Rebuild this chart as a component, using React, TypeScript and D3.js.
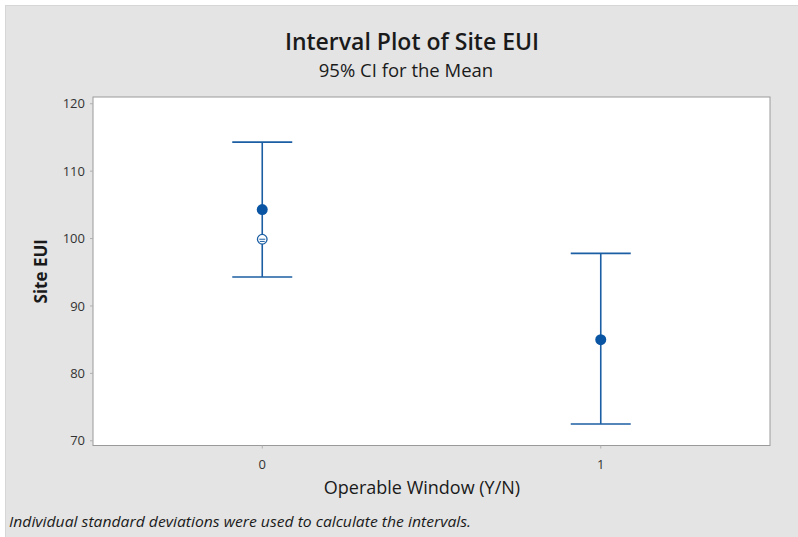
import React from "react";
import * as d3 from "d3";

const groups = ["0", "1"];
const groupX = [0, 1];
const means = [104.3, 85.0];
const lowerCI = [94.3, 72.5];
const upperCI = [114.3, 97.8];
const medians: (number | null)[] = [99.9, null];
const yTicks = [70, 80, 90, 100, 110, 120];

const W = 798;
const H = 537;
const plot = { left: 93, top: 97, right: 770, bottom: 445.5 };
const blue = "#1b5ea3";
const dotBlue = "#0a55a3";
const font = "'Open Sans', 'Noto Sans', sans-serif";

export default function App() {
  const x = d3.scaleLinear().domain([-0.5, 1.5]).range([plot.left, plot.right]);
  const y = d3.scaleLinear().domain([69.3, 121.0]).range([plot.bottom, plot.top]);
  const capHalf = 30;

  return (
    <svg width={W} height={H} style={{ position: "absolute", left: 0, top: 0 }}>
      <rect x={0} y={0} width={W} height={H} fill="#ffffff" />
      <rect x={5.5} y={5.5} width={W} height={H} fill="#e4e4e4" stroke="#d6d6d6" />
      <text x={412} y={50} textAnchor="middle" fontFamily={font} fontSize={23} fontWeight={600} fill="#1a1a1a">
        Interval Plot of Site EUI
      </text>
      <text x={406} y={77} textAnchor="middle" fontFamily={font} fontSize={18.5} fill="#1a1a1a">
        95% CI for the Mean
      </text>

      <rect
        x={plot.left}
        y={plot.top}
        width={plot.right - plot.left}
        height={plot.bottom - plot.top}
        fill="#ffffff"
        stroke="#9a9a9a"
        strokeWidth={1}
      />

      {yTicks.map((t) => (
        <g key={t}>
          <line x1={plot.left - 3} x2={plot.left} y1={y(t)} y2={y(t)} stroke="#b0b0b0" />
          <text x={plot.left - 8} y={y(t)} dy="0.35em" textAnchor="end" fontFamily={font} fontSize={13} fill="#333">
            {t}
          </text>
        </g>
      ))}
      {groups.map((g, i) => (
        <g key={g}>
          <line x1={x(groupX[i])} x2={x(groupX[i])} y1={plot.bottom} y2={plot.bottom + 3} stroke="#b0b0b0" />
          <text x={x(groupX[i])} y={plot.bottom + 23} textAnchor="middle" fontFamily={font} fontSize={13} fill="#333">
            {g}
          </text>
        </g>
      ))}

      <text
        transform={`translate(47, ${(plot.top + plot.bottom) / 2}) rotate(-90)`}
        textAnchor="middle"
        fontFamily={font}
        fontSize={17}
        fontWeight={700}
        fill="#1a1a1a"
      >
        Site EUI
      </text>
      <text x={422} y={494} textAnchor="middle" fontFamily={font} fontSize={18} fill="#1a1a1a">
        Operable Window (Y/N)
      </text>
      <text
        x={9}
        y={527}
        fontFamily={font}
        fontSize={14.5}
        fontStyle="italic"
        fill="#1a1a1a"
        textLength={462}
        lengthAdjust="spacingAndGlyphs"
      >
        Individual standard deviations were used to calculate the intervals.
      </text>

      {groups.map((g, i) => {
        const cx = x(groupX[i]);
        const med = medians[i];
        return (
          <g key={`iv-${g}`}>
            <line x1={cx} x2={cx} y1={y(upperCI[i])} y2={y(lowerCI[i])} stroke={blue} strokeWidth={1.6} />
            <line x1={cx - capHalf} x2={cx + capHalf} y1={y(upperCI[i])} y2={y(upperCI[i])} stroke={blue} strokeWidth={1.6} />
            <line x1={cx - capHalf} x2={cx + capHalf} y1={y(lowerCI[i])} y2={y(lowerCI[i])} stroke={blue} strokeWidth={1.6} />
            <circle cx={cx} cy={y(means[i])} r={5.5} fill={dotBlue} />
            {med !== null && (
              <g>
                <circle cx={cx} cy={y(med)} r={4.8} fill="#ffffff" stroke={blue} strokeWidth={1.3} />
                <line x1={cx - 3} x2={cx + 3} y1={y(med)} y2={y(med)} stroke={blue} strokeWidth={1} />
                <line x1={cx - 2.5} x2={cx + 2.5} y1={y(med) + 2.2} y2={y(med) + 2.2} stroke={blue} strokeWidth={1} />
              </g>
            )}
          </g>
        );
      })}
    </svg>
  );
}
